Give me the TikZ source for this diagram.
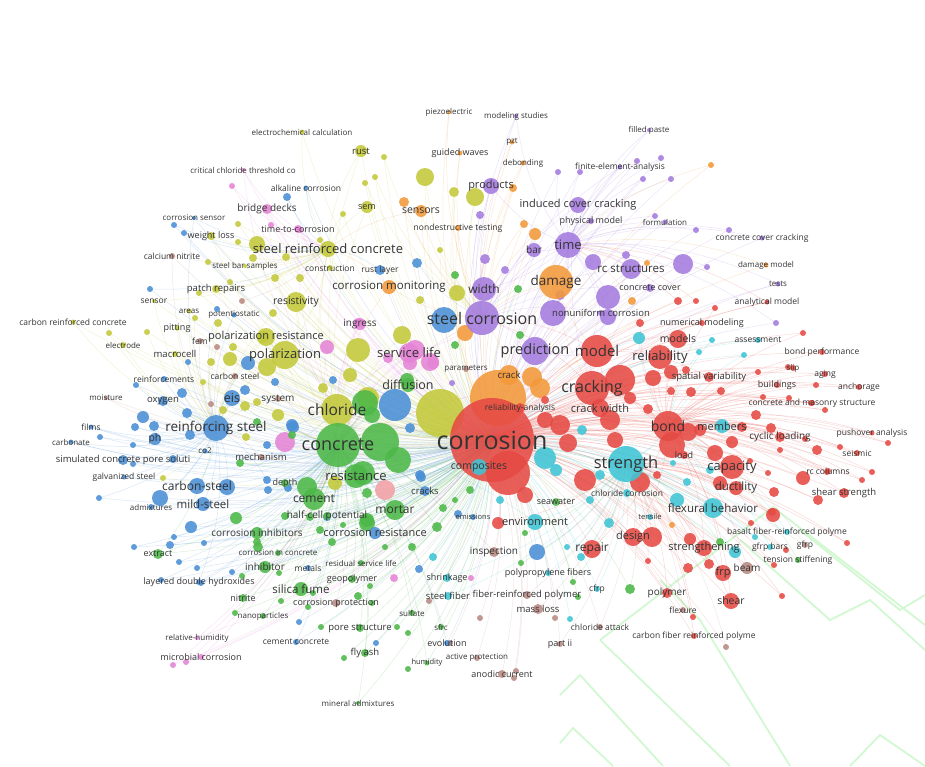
\documentclass[tikz,border=0pt]{standalone}
\usepackage{fontspec}
\setmainfont{Open Sans}
\pgfdeclarelayer{bg}
\pgfdeclarelayer{edges}
\pgfdeclarelayer{labels}
\pgfsetlayers{bg,edges,main,labels}
\definecolor{cR}{HTML}{E64A44}
\definecolor{cG}{HTML}{4DB848}
\definecolor{cB}{HTML}{4A8FD6}
\definecolor{cY}{HTML}{C3C93A}
\definecolor{cP}{HTML}{A47BDF}
\definecolor{cC}{HTML}{3FC5D5}
\definecolor{cO}{HTML}{F3993A}
\definecolor{cBr}{HTML}{B98A82}
\definecolor{cPk}{HTML}{E584D6}
\definecolor{cSa}{HTML}{F2A0A6}
\definecolor{txt}{HTML}{333333}
\definecolor{wm}{HTML}{D2F8D2}
\tikzset{
 bub/.style={circle,inner sep=0pt,draw=none,fill opacity=0.88},
 lbl/.style={inner sep=0pt,text=txt},
 lnk/.style={line width=0.45pt,draw opacity=0.22},
 wmark/.style={draw=wm,line width=1.8pt,line join=miter}
}
\newcounter{dotc}
\newcommand\D[5]{\expandafter\gdef\csname ncol#1\endcsname{#5}%
 \node[bub,fill=#5,minimum size=2*#4] (#1) at (#2,#3) {};}
\newcommand\K[7]{\D{#1}{#2}{#3}{#4}{#5}%
 \begin{pgfonlayer}{labels}\node[lbl,font=\fontsize{#6}{#6}\selectfont] (#1-t) at (#2,#3) {#7};\end{pgfonlayer}}
\newcommand\Dt[4]{\stepcounter{dotc}\edef\dn{d\arabic{dotc}}\expandafter\D\expandafter{\dn}{#1}{#2}{#3}{#4}}
\newcommand\E[2]{\draw[lnk,draw=\csname ncol#2\endcsname] (#1.center) to[bend left=14] (#2.center);}
\begin{document}
\begin{tikzpicture}[x=1pt,y=-1pt]
\useasboundingbox (0,0) rectangle (925,766);
\begin{pgfonlayer}{bg}
\fill[white] (0,0) rectangle (925,766);
\end{pgfonlayer}
% ---------- dots, group A (top-left)
\Dt{232}{186}{3}{cPk}\Dt{287}{197}{4}{cB}\Dt{174}{225}{3}{cB}\Dt{184}{233}{3}{cB}
\Dt{238}{224}{3}{cY}\Dt{238}{242}{3}{cY}\Dt{257}{244}{8}{cY}\Dt{208}{262}{3}{cY}
\Dt{230}{282}{3}{cY}\Dt{199}{293}{3}{cY}\Dt{275}{278}{4}{cY}\Dt{300}{278}{4}{cY}
\Dt{253}{258}{4}{cY}\Dt{286}{257}{4}{cY}\Dt{150}{289}{3}{cB}\Dt{242}{301}{3}{cBr}
\Dt{271}{225}{3}{cPk}\Dt{300}{230}{3}{cPk}\Dt{343}{214}{3}{cY}\Dt{320}{240}{3}{cY}
\edef\gA{\arabic{dotc}}
% group B (top-middle)
\Dt{384}{157}{3}{cY}\Dt{375}{177}{3}{cY}\Dt{365}{183}{3}{cY}\Dt{425}{177}{9}{cY}
\Dt{475}{197}{9}{cY}\Dt{454}{192}{5}{cY}\Dt{404}{202}{5}{cO}\Dt{480}{215}{4}{cP}
\Dt{524}{224}{4}{cO}\Dt{535}{234}{6}{cO}\Dt{485}{259}{5}{cP}\Dt{505}{270}{4}{cP}
\Dt{417}{263}{5}{cB}\Dt{455}{275}{4}{cG}\Dt{457}{293}{8}{cY}\Dt{518}{289}{4}{cG}
\Dt{513}{188}{4}{cO}\Dt{420}{300}{4}{cY}\Dt{440}{250}{3}{cY}
\edef\gB{\arabic{dotc}}
% group C (top-right purple)
\Dt{593}{262}{8}{cP}\Dt{608}{297}{12}{cP}\Dt{558}{172}{3}{cP}\Dt{580}{172}{3}{cP}
\Dt{637}{161}{3}{cP}\Dt{661}{158}{3}{cP}\Dt{643}{179}{3}{cP}\Dt{671}{179}{3}{cP}
\Dt{711}{165}{3}{cO}\Dt{655}{216}{3}{cP}\Dt{696}{230}{3}{cP}\Dt{729}{230}{3}{cP}
\Dt{683}{264}{10}{cP}\Dt{707}{267}{3}{cP}\Dt{626}{255}{4}{cP}\Dt{647}{263}{3}{cO}
\Dt{678}{301}{4}{cR}\Dt{696}{301}{3}{cR}\Dt{632}{301}{4}{cO}\Dt{553}{313}{13}{cP}
\Dt{608}{317}{8}{cP}\Dt{776}{323}{3}{cP}\Dt{560}{295}{5}{cP}
\edef\gC{\arabic{dotc}}
% group D (left middle)
\Dt{217}{309}{3}{cB}\Dt{109}{333}{3}{cY}\Dt{147}{332}{3}{cY}\Dt{195}{318}{3}{cY}
\Dt{218}{323}{4}{cY}\Dt{273}{313}{4}{cY}\Dt{217}{347}{3}{cBr}\Dt{233}{347}{4}{cY}
\Dt{211}{362}{4}{cY}\Dt{230}{359}{7}{cY}\Dt{263}{337}{6}{cY}\Dt{267}{367}{9}{cY}
\Dt{248}{363}{7}{cB}\Dt{188}{362}{3}{cB}\Dt{203}{382}{3}{cY}\Dt{136}{385}{3}{cB}
\Dt{182}{393}{5}{cB}\Dt{245}{390}{5}{cB}\Dt{245}{406}{5}{cY}\Dt{211}{404}{3}{cBr}
\Dt{223}{410}{4}{cY}\Dt{143}{417}{6}{cB}\Dt{154}{426}{5}{cB}\Dt{135}{427}{4}{cB}
\Dt{187}{413}{5}{cB}\Dt{190}{435}{5}{cB}\Dt{100}{437}{3}{cB}\Dt{133}{445}{3}{cB}
\Dt{173}{459}{4}{cB}\Dt{133}{464}{3}{cB}\Dt{246}{437}{4}{cY}\Dt{163}{478}{3}{cY}
\Dt{160}{498}{8}{cB}\Dt{99}{498}{3}{cB}\Dt{267}{480}{4}{cB}\Dt{227}{487}{8}{cB}
\edef\gD{\arabic{dotc}}
% group E (centre-left)
\Dt{278}{415}{6}{cY}\Dt{293}{427}{6}{cB}\Dt{257}{422}{4}{cG}\Dt{240}{463}{4}{cG}
\Dt{307}{487}{10}{cG}\Dt{323}{388}{5}{cY}\Dt{350}{375}{7}{cY}\Dt{368}{398}{11}{cY}
\Dt{407}{380}{7}{cG}\Dt{395}{405}{16}{cB}\Dt{380}{442}{19}{cG}\Dt{398}{460}{13}{cG}
\Dt{363}{473}{12}{cG}\Dt{285}{442}{10}{cPk}\Dt{292}{425}{6}{cB}\Dt{385}{490}{10}{cSa}
\Dt{335}{483}{7}{cY}\Dt{367}{520}{7}{cG}\Dt{310}{517}{4}{cG}\Dt{292}{435}{4}{cG}
\Dt{267}{445}{4}{cB}\Dt{288}{488}{4}{cB}\Dt{268}{490}{4}{cB}\Dt{420}{475}{5}{cB}
\Dt{437}{527}{5}{cG}\Dt{443}{508}{4}{cG}\Dt{433}{363}{6}{cPk}\Dt{410}{363}{7}{cPk}
\Dt{333}{380}{4}{cB}\Dt{275}{382}{4}{cB}\Dt{257}{402}{4}{cY}\Dt{327}{347}{7}{cPk}
\Dt{358}{350}{12}{cY}\Dt{402}{335}{9}{cY}\Dt{415}{350}{10}{cPk}\Dt{430}{362}{9}{cPk}
\Dt{388}{358}{5}{cPk}\Dt{358}{323}{5}{cPk}\Dt{365}{403}{13}{cG}\Dt{372}{415}{8}{cG}
\Dt{410}{428}{5}{cB}\Dt{421}{477}{5}{cB}\Dt{367}{493}{5}{cG}
\edef\gE{\arabic{dotc}}
% group F (centre)
\Dt{444}{320}{13}{cB}\Dt{465}{333}{8}{cO}\Dt{520}{335}{4}{cG}\Dt{532}{377}{10}{cO}
\Dt{540}{388}{10}{cO}\Dt{498}{398}{28}{cO}\Dt{440}{413}{24}{cY}\Dt{508}{473}{22}{cR}
\Dt{545}{420}{8}{cR}\Dt{560}{425}{10}{cR}\Dt{545}{458}{11}{cC}\Dt{568}{443}{9}{cR}
\Dt{585}{480}{11}{cR}\Dt{556}{470}{6}{cC}\Dt{470}{490}{4}{cG}\Dt{455}{500}{3}{cG}
\Dt{500}{500}{4}{cC}\Dt{525}{495}{8}{cR}\Dt{600}{475}{5}{cC}\Dt{590}{500}{4}{cC}
\Dt{582}{430}{5}{cC}\Dt{452}{383}{3}{cP}\Dt{455}{345}{4}{cG}\Dt{545}{400}{4}{cR}
\edef\gF{\arabic{dotc}}
% group G (right red)
\Dt{640}{323}{4}{cR}\Dt{639}{338}{6}{cC}\Dt{712}{340}{3}{cC}\Dt{699}{352}{3}{cC}
\Dt{744}{355}{3}{cC}\Dt{715}{308}{3}{cR}\Dt{803}{333}{3}{cR}\Dt{620}{380}{15}{cR}
\Dt{653}{378}{8}{cR}\Dt{671}{372}{7}{cR}\Dt{686}{370}{4}{cR}\Dt{691}{392}{5}{cR}
\Dt{721}{391}{4}{cR}\Dt{671}{391}{4}{cR}\Dt{630}{398}{6}{cR}\Dt{648}{409}{5}{cR}
\Dt{758}{372}{3}{cR}\Dt{788}{367}{3}{cR}\Dt{816}{385}{3}{cR}\Dt{763}{397}{3}{cR}
\Dt{789}{398}{3}{cR}\Dt{825}{410}{3}{cR}\Dt{811}{403}{3}{cR}\Dt{756}{415}{5}{cR}
\Dt{672}{445}{13}{cR}\Dt{688}{432}{9}{cR}\Dt{700}{430}{6}{cR}\Dt{742}{427}{5}{cR}
\Dt{732}{442}{6}{cR}\Dt{771}{428}{5}{cR}\Dt{805}{439}{3}{cR}\Dt{817}{450}{5}{cR}
\Dt{840}{447}{3}{cR}\Dt{888}{443}{3}{cR}\Dt{780}{450}{3}{cR}\Dt{715}{453}{8}{cR}
\Dt{750}{461}{3}{cR}\Dt{768}{473}{3}{cR}\Dt{803}{478}{7}{cR}\Dt{827}{472}{3}{cR}
\Dt{872}{472}{3}{cR}\Dt{862}{480}{3}{cR}\Dt{610}{420}{10}{cR}\Dt{615}{440}{8}{cR}
\edef\gG{\arabic{dotc}}
% group H (bottom right)
\Dt{720}{483}{7}{cR}\Dt{774}{492}{5}{cR}\Dt{818}{500}{5}{cR}\Dt{772}{512}{4}{cR}
\Dt{640}{482}{10}{cR}\Dt{677}{500}{7}{cC}\Dt{710}{470}{4}{cC}\Dt{673}{463}{3}{cC}
\Dt{687}{482}{4}{cC}\Dt{657}{475}{4}{cR}\Dt{652}{537}{10}{cR}\Dt{690}{539}{6}{cR}
\Dt{720}{542}{4}{cG}\Dt{735}{552}{6}{cC}\Dt{688}{568}{5}{cR}\Dt{709}{564}{5}{cR}
\Dt{773}{515}{7}{cR}\Dt{751}{523}{3}{cR}\Dt{847}{543}{3}{cR}\Dt{782}{596}{3}{cR}
\Dt{693}{617}{3}{cR}\Dt{726}{647}{3}{cBr}\Dt{630}{589}{5}{cG}\Dt{755}{537}{3}{cC}
\Dt{786}{550}{3}{cR}\Dt{774}{565}{3}{cR}\Dt{648}{561}{3}{cR}\Dt{672}{525}{3}{cO}
\Dt{537}{552}{8}{cB}\Dt{567}{547}{3}{cC}\Dt{581}{557}{4}{cC}\Dt{609}{523}{5}{cC}
\Dt{498}{523}{6}{cR}\Dt{525}{533}{3}{cG}\Dt{521}{563}{3}{cG}\Dt{573}{582}{3}{cG}
\edef\gH{\arabic{dotc}}
% group I (bottom left)
\Dt{191}{527}{6}{cB}\Dt{236}{518}{6}{cG}\Dt{285}{516}{4}{cG}\Dt{174}{537}{3}{cB}
\Dt{134}{547}{3}{cB}\Dt{204}{543}{3}{cB}\Dt{258}{547}{5}{cG}\Dt{179}{562}{3}{cB}
\Dt{197}{568}{3}{cB}\Dt{232}{572}{3}{cB}\Dt{242}{576}{3}{cG}\Dt{279}{573}{3}{cG}
\Dt{161}{580}{3}{cB}\Dt{201}{583}{3}{cB}\Dt{281}{601}{3}{cG}\Dt{235}{613}{3}{cG}
\Dt{299}{622}{3}{cB}\Dt{173}{665}{3}{cPk}\Dt{186}{662}{3}{cPk}\Dt{308}{607}{3}{cG}
\Dt{327}{517}{4}{cB}\Dt{367}{523}{8}{cG}\Dt{320}{530}{4}{cG}\Dt{332}{542}{4}{cG}
\Dt{343}{525}{3}{cG}\Dt{257}{542}{4}{cG}\Dt{170}{545}{4}{cB}
\edef\gI{\arabic{dotc}}
% group J (bottom centre)
\Dt{385}{547}{3}{cG}\Dt{412}{547}{4}{cG}\Dt{433}{557}{4}{cC}\Dt{419}{569}{4}{cB}
\Dt{394}{578}{4}{cPk}\Dt{471}{578}{3}{cPk}\Dt{370}{586}{3}{cG}\Dt{313}{593}{3}{cG}
\Dt{358}{596}{4}{cG}\Dt{372}{603}{3}{cG}\Dt{429}{601}{3}{cBr}\Dt{578}{597}{3}{cG}
\Dt{480}{618}{3}{cBr}\Dt{555}{618}{3}{cBr}\Dt{570}{619}{3}{cC}\Dt{321}{627}{3}{cG}
\Dt{397}{627}{3}{cG}\Dt{408}{633}{3}{cG}\Dt{376}{643}{3}{cB}\Dt{344}{658}{3}{cG}
\Dt{408}{669}{3}{cG}\Dt{516}{671}{3}{cBr}\Dt{514}{678}{3}{cBr}\Dt{458}{514}{4}{cB}
\Dt{450}{643}{3}{cBr}
\edef\gJ{\arabic{dotc}}
% ---------- labelled nodes
\K{piezo}{449}{112}{2}{cO}{8}{piezoelectric}
\K{modstud}{516}{116}{2}{cP}{8}{modeling studies}
\K{pzt}{512}{142}{2.5}{cO}{8}{pzt}
\K{filled}{649}{130}{2}{cP}{8}{filled paste}
\K{electro}{302}{132}{2.5}{cY}{8}{electrochemical calculation}
\K{rust}{361}{151}{6}{cY}{9.5}{rust}
\K{guided}{460}{153}{2.5}{cO}{9}{guided waves}
\K{debond}{523}{163}{2.5}{cO}{8}{debonding}
\K{fea}{620}{167}{2.5}{cP}{8.5}{finite-element-analysis}
\K{crit}{243}{170}{2}{cPk}{8}{critical chloride threshold co}
\K{alk}{306}{188}{2.5}{cB}{8.5}{alkaline corrosion}
\K{products}{491}{186}{8}{cP}{11}{products}
\K{sem}{367}{207}{6}{cY}{9}{sem}
\K{sensors}{421}{211}{6}{cO}{10.5}{sensors}
\K{bridge}{267}{209}{5}{cPk}{10}{bridge decks}
\K{corrsens}{194}{218}{2}{cB}{8}{corrosion sensor}
\K{icc}{578}{205}{8}{cP}{11}{induced cover cracking}
\K{phys}{591}{221}{3}{cP}{9}{physical model}
\K{formul}{665}{222}{2.5}{cP}{8}{formulation}
\K{wloss}{211}{236}{4}{cY}{9}{weight loss}
\K{ttc}{298}{229}{4}{cPk}{9}{time-to-corrosion}
\K{ndt}{458}{228}{3}{cO}{8.5}{nondestructive testing}
\K{ccc}{762}{238}{2.5}{cP}{8.5}{concrete cover cracking}
\K{src}{328}{249}{8}{cY}{13}{steel reinforced concrete}
\K{time}{568}{245}{13}{cP}{13}{time}
\K{calcn}{172}{256}{3}{cBr}{8.5}{calcium nitrite}
\K{sbs}{245}{266}{2}{cY}{8}{steel bar samples}
\K{bar}{534}{250}{7}{cP}{10}{bar}
\K{constr}{330}{268}{3}{cY}{8.5}{construction}
\K{rustl}{380}{270}{5}{cB}{8.5}{rust layer}
\K{rcs}{631}{269}{10}{cP}{11.5}{rc structures}
\K{dmodel}{766}{265}{2.5}{cO}{8}{damage model}
\K{cmon}{389}{287}{7}{cO}{11.5}{corrosion monitoring}
\K{width}{484}{289}{12}{cP}{12}{width}
\K{damage}{556}{282}{17}{cO}{13.5}{damage}
\K{tests}{778}{284}{2.5}{cP}{8}{tests}
\K{ccover}{650}{288}{4}{cP}{9}{concrete cover}
\K{sensor}{154}{301}{2}{cY}{8.5}{sensor}
\K{patch}{216}{289}{4}{cY}{9.5}{patch repairs}
\K{resist}{296}{302}{10}{cY}{10.5}{resistivity}
\K{anamod}{767}{302}{2.5}{cR}{8.5}{analytical model}
\K{areas}{189}{311}{2.5}{cY}{8}{areas}
\K{potst}{234}{315}{2.5}{cB}{8}{potentiostatic}
\K{crc}{73}{322}{2.5}{cY}{8.5}{carbon reinforced concrete}
\K{pitting}{177}{328}{2.5}{cY}{9}{pitting}
\K{ingress}{360}{324}{6}{cPk}{10}{ingress}
\K{stcorr}{482}{318}{17}{cP}{16}{steel corrosion}
\K{nonun}{601}{313}{3}{cP}{9.5}{nonuniform corrosion}
\K{nummod}{702}{323}{3}{cR}{9}{numerical modeling}
\K{electrode}{123}{345}{3}{cY}{8}{electrode}
\K{fem}{200}{341}{3}{cBr}{8.5}{fem}
\K{polres}{266}{337}{9}{cY}{11}{polarization resistance}
\K{macro}{175}{354}{3}{cY}{9.5}{macrocell}
\K{polar}{285}{355}{14}{cY}{13}{polarization}
\K{servl}{409}{353}{10}{cPk}{13}{service life}
\K{pred}{535}{351}{14}{cP}{14.5}{prediction}
\K{model}{597}{351}{16}{cR}{15}{model}
\K{models}{678}{339}{9}{cR}{10.5}{models}
\K{assess}{758}{340}{3}{cC}{8.5}{assessment}
\K{reliab}{660}{357}{12}{cR}{13}{reliability}
\K{bondperf}{822}{352}{3}{cR}{8.5}{bond performance}
\K{cstl}{235}{376}{3}{cBr}{8.5}{carbon steel}
\K{reinf}{164}{379}{3}{cB}{8.5}{reinforcements}
\K{params}{466}{369}{3}{cBr}{8}{parameters}
\K{crack}{509}{375}{10}{cO}{9.5}{crack}
\K{slip}{793}{368}{3}{cR}{8}{slip}
\K{aging}{825}{374}{3}{cR}{8.5}{aging}
\K{spvar}{709}{377}{5}{cR}{9.5}{spatial variability}
\K{cracking}{592}{388}{17}{cR}{16}{cracking}
\K{bldg}{777}{385}{3}{cR}{9}{buildings}
\K{anch}{859}{387}{3}{cR}{8.5}{anchorage}
\K{diff}{408}{385}{7}{cG}{12.5}{diffusion}
\K{moist}{106}{398}{2}{cBr}{8}{moisture}
\K{oxygen}{163}{401}{5}{cB}{9.5}{oxygen}
\K{eis}{232}{398}{8}{cB}{12.5}{eis}
\K{system}{278}{399}{3}{cBr}{10}{system}
\K{relan}{520}{408}{5}{cR}{8.5}{reliability-analysis}
\K{crwidth}{600}{408}{9}{cR}{11}{crack width}
\K{cms}{812}{403}{3}{cR}{8.5}{concrete and masonry structure}
\K{chloride}{337}{410}{16}{cY}{15.5}{chloride}
\K{films}{91}{427}{2.5}{cB}{8.5}{films}
\K{reinst}{216}{428}{13}{cB}{13.5}{reinforcing steel}
\K{corrosion}{492}{440}{42}{cR}{25}{corrosion}
\K{bond}{668}{426}{15}{cR}{14}{bond}
\K{members}{722}{426}{7}{cC}{11}{members}
\K{cyclic}{780}{437}{5}{cR}{10}{cyclic loading}
\K{pushover}{872}{433}{2.5}{cR}{8.5}{pushover analysis}
\K{carbonate}{71}{442}{2.5}{cB}{8}{carbonate}
\K{ph}{155}{439}{6}{cB}{10.5}{ph}
\K{co2}{205}{451}{2.5}{cB}{8}{co2}
\K{concrete}{338}{445}{22}{cG}{18}{concrete}
\K{mech}{261}{457}{3}{cBr}{9.5}{mechanism}
\K{simconc}{123}{460}{5}{cB}{9.5}{simulated concrete pore soluti}
\K{strength}{626}{464}{18}{cC}{16.5}{strength}
\K{load}{684}{455}{4}{cR}{9}{load}
\K{seismic}{857}{453}{3}{cR}{8.5}{seismic}
\K{compos}{479}{467}{8}{cC}{10.5}{composites}
\K{capacity}{732}{467}{12}{cR}{13}{capacity}
\K{rccol}{828}{471}{3}{cR}{8.5}{rc columns}
\K{resist2}{356}{476}{12}{cG}{13}{resistance}
\K{galv}{124}{477}{2.5}{cB}{8.5}{galvanized steel}
\K{depth}{285}{483}{4}{cG}{9}{depth}
\K{cracks}{425}{491}{5}{cB}{9.5}{cracks}
\K{cstl2}{197}{486}{8}{cB}{12}{carbon-steel}
\K{clcorr}{627}{493}{4}{cC}{8.5}{chloride corrosion}
\K{ductil}{736}{488}{7}{cR}{11.5}{ductility}
\K{shstr}{844}{493}{5}{cR}{9.5}{shear strength}
\K{cement}{314}{499}{11}{cG}{12}{cement}
\K{admix}{151}{507}{3}{cB}{8}{admixtures}
\K{mild}{203}{504}{7}{cB}{11.5}{mild-steel}
\K{seaw}{556}{502}{4}{cG}{9}{seawater}
\K{mortar}{395}{510}{10}{cG}{12}{mortar}
\K{flex}{713}{508}{10}{cC}{11.5}{flexural behavior}
\K{hcp}{327}{516}{4}{cG}{10}{half-cell potential}
\K{emis}{473}{517}{3}{cB}{7.5}{emissions}
\K{env}{535}{522}{8}{cC}{11}{environment}
\K{tensile}{650}{517}{3}{cC}{7.5}{tensile}
\K{ci}{257}{533}{6}{cG}{10}{corrosion inhibitors}
\K{cres}{375}{533}{6}{cB}{11}{corrosion resistance}
\K{basalt}{787}{532}{3}{cC}{8.5}{basalt fiber-reinforced polyme}
\K{design}{633}{537}{9}{cR}{11}{design}
\K{extract}{158}{554}{5}{cG}{9}{extract}
\K{cic}{278}{553}{3}{cG}{8}{corrosion in concrete}
\K{insp}{494}{552}{5}{cBr}{10}{inspection}
\K{repair}{592}{549}{9}{cR}{12}{repair}
\K{streng}{704}{548}{8}{cR}{11}{strengthening}
\K{gfrpb}{770}{547}{3}{cC}{8.5}{gfrp bars}
\K{gfrp}{805}{545}{3}{cBr}{8.5}{gfrp}
\K{rsl}{361}{563}{3}{cG}{8}{residual service life}
\K{inhib}{265}{567}{6}{cG}{10}{inhibitor}
\K{metals}{308}{568}{3}{cB}{8.5}{metals}
\K{tstiff}{798}{560}{3}{cG}{8.5}{tension stiffening}
\K{beam}{747}{568}{6}{cBr}{10}{beam}
\K{ldh}{199}{582}{3}{cB}{9}{layered double hydroxides}
\K{shrink}{447}{578}{4}{cC}{9}{shrinkage}
\K{ppf}{548}{573}{3}{cC}{9}{polypropylene fibers}
\K{silica}{301}{589}{7}{cG}{11.5}{silica fume}
\K{geopol}{352}{579}{4}{cG}{9}{geopolymer}
\K{frp}{723}{573}{8}{cR}{11}{frp}
\K{cfrp}{597}{589}{3}{cC}{8.5}{cfrp}
\K{nitrite}{243}{598}{4}{cG}{9}{nitrite}
\K{sfiber}{448}{596}{4}{cC}{9.5}{steel fiber}
\K{frpoly}{527}{595}{4}{cBr}{9.5}{fiber-reinforced polymer}
\K{polymer}{667}{593}{5}{cR}{10}{polymer}
\K{cprot}{336}{603}{4}{cBr}{9}{corrosion protection}
\K{massl}{538}{609}{5}{cBr}{9.5}{mass loss}
\K{nano}{263}{616}{3}{cG}{8}{nanoparticles}
\K{shear}{731}{601}{8}{cR}{10.5}{shear}
\K{sulfate}{412}{613}{3}{cG}{8}{sulfate}
\K{flexure}{683}{610}{3}{cBr}{8.5}{flexure}
\K{pores}{360}{628}{4}{cG}{9.5}{pore structure}
\K{sfrc}{441}{627}{3}{cG}{8}{sfrc}
\K{clatt}{600}{627}{3}{cBr}{8.5}{chloride attack}
\K{relhum}{197}{638}{2}{cPk}{8}{relative-humidity}
\K{cemconc}{296}{642}{3}{cB}{8.5}{cement concrete}
\K{evol}{447}{643}{3}{cB}{9}{evolution}
\K{part2}{560}{644}{3}{cBr}{9}{part ii}
\K{cfrpoly}{694}{636}{3}{cR}{8.5}{carbon fiber reinforced polyme}
\K{flyash}{365}{653}{4}{cG}{9.5}{fly ash}
\K{microb}{201}{657}{3}{cPk}{9}{microbial corrosion}
\K{humid}{427}{663}{2.5}{cG}{7.5}{humidity}
\K{actprot}{477}{658}{3}{cBr}{8}{active protection}
\K{anodic}{502}{674}{4}{cBr}{9}{anodic current}
\K{mineral}{358}{703}{2}{cG}{8}{mineral admixtures}
% ---------- connectors
\begin{pgfonlayer}{edges}
\draw[wmark] (600,640) -- (773,507) -- (925,625);
\draw[wmark] (560,695) -- (580,675) -- (663,766);
\draw[wmark] (560,743) -- (573,728) -- (613,766);
\draw[wmark] (600,640) -- (730,766);
\draw[wmark] (660,580) -- (700,620) -- (790,766);
\draw[wmark] (740,540) -- (830,620) -- (870,600) -- (925,650);
\draw[wmark] (800,530) -- (900,610) -- (925,595);
\draw[wmark] (850,766) -- (880,735) -- (925,766);
\foreach \b in {concrete,chloride,reinst,stcorr,strength,bond,cracking,model,damage,time,src,polar,servl,diff,resist2,cement,mortar,cres,ci,inhib,cstl2,mild,eis,capacity,ductil,flex,repair,design,streng,frp,beam,shear,polymer,env,insp,seaw,compos,cracks,width,products,sensors,cmon,rust,sem,ingress,pred,models,reliab,crwidth,relan,crack,nonun,rcs,icc,members,cyclic,shstr,rccol,seismic,bondperf,cms,bldg,anch,aging,slip,spvar,nummod,assess,load,clcorr,tensile,gfrpb,gfrp,basalt,tstiff,cfrp,ppf,sfiber,shrink,frpoly,massl,clatt,cfrpoly,flexure,anodic,evol,sfrc,sulfate,pores,flyash,silica,geopol,nitrite,extract,ldh,hcp,depth,mech,oxygen,macro,polres,resist,patch,wloss,bridge,ttc,alk,crit,electro,guided,ndt,bar,phys,ccover,ccc,fea,anamod,dmodel,tests,pushover,emis,params,system,ph,simconc,galv,films,cic,rsl,metals,cprot,nano,cemconc,part2,actprot,humid,pitting,potst,areas,constr,rustl,sbs,calcn,reinf,cstl,fem,electrode,crc,sensor,corrsens,moist,carbonate,co2,admix,formul,debond,pzt,piezo,modstud,filled,microb,relhum,mineral} {\E{corrosion}{\b}}
\foreach \i in {1,...,\gJ} {\E{corrosion}{d\i}}
\foreach \b in {chloride,reinst,cement,mortar,resist2,diff,servl,polar,eis,cstl2,mild,ci,inhib,silica,flyash,pores,geopol,hcp,depth,mech,oxygen,simconc,ph,films,carbonate,galv,admix,extract,ldh,nitrite,nano,cprot,cemconc,microb,relhum,mineral,sulfate,cres,strength,bond,cracking,src,resist,ingress,macro,polres,stcorr,cic,rsl,metals,sfrc,evol,humid,cracks,env,insp} {\E{concrete}{\b}}
\foreach \b in {diff,servl,ingress,src,polar,resist,cstl2,reinst,polres,eis,cmon,rust,sem,ttc,bridge,crit,patch,wloss,cement,mortar} {\E{chloride}{\b}}
\foreach \b in {eis,oxygen,ph,films,carbonate,simconc,galv,co2,cstl2,mild,polar,polres,macro,reinf,moist,pitting,electrode,crc,sensor,corrsens,calcn,fem,admix,cstl,system,mech,areas,potst,extract,ldh} {\E{reinst}{\b}}
\foreach \b in {rust,sem,electro,alk,crit,bridge,ttc,wloss,sbs,patch,constr,rustl,cmon,sensors,resist,polar,calcn,corrsens,sensor} {\E{src}{\b}}
\foreach \b in {width,products,time,damage,bar,icc,phys,rcs,nonun,pred,model,cracking,crack,ccover,fea,debond,pzt,guided,ndt,sensors,cmon,servl,piezo,modstud} {\E{stcorr}{\b}}
\foreach \b in {icc,phys,formul,fea,ccc,rcs,dmodel,tests,anamod,nonun,damage,bar,products,modstud,filled,width,pred} {\E{time}{\b}}
\foreach \b in {model,reliab,bond,crwidth,spvar,nummod,models,assess,strength,capacity,rcs,ccover,nonun,icc,anamod,tests,damage,relan} {\E{cracking}{\b}}
\foreach \b in {members,capacity,ductil,flex,load,cyclic,bondperf,slip,aging,anch,bldg,cms,pushover,seismic,rccol,shstr,streng,frp,beam,shear,design,repair,basalt,gfrp,gfrpb,tstiff,strength,reliab,models} {\E{bond}{\b}}
\foreach \b in {members,flex,capacity,env,compos,seaw,clcorr,tensile,design,repair,polymer,cfrp,ppf,sfiber,shrink,frpoly,massl,clatt,part2,flexure,cfrpoly,streng,frp,ductil,shear} {\E{strength}{\b}}
\foreach \b in {pred,reliab,relan,crack,damage,spvar,nummod,models,crwidth} {\E{model}{\b}}
\foreach \i in {1,...,\gA} {\E{src}{d\i}}
\pgfmathtruncatemacro\s{\gA+1}
\foreach \i in {\s,...,\gB} {\E{stcorr}{d\i}}
\pgfmathtruncatemacro\s{\gB+1}
\foreach \i in {\s,...,\gC} {\E{time}{d\i}}
\pgfmathtruncatemacro\s{\gC+1}
\foreach \i in {\s,...,\gD} {\E{reinst}{d\i}}
\pgfmathtruncatemacro\s{\gD+1}
\foreach \i in {\s,...,\gE} {\E{concrete}{d\i}}
\pgfmathtruncatemacro\s{\gF+1}
\foreach \i in {\s,...,\gG} {\E{bond}{d\i}}
\pgfmathtruncatemacro\s{\gG+1}
\foreach \i in {\s,...,\gH} {\E{strength}{d\i}}
\pgfmathtruncatemacro\s{\gH+1}
\foreach \i in {\s,...,\gI} {\E{concrete}{d\i}}
\end{pgfonlayer}
\end{tikzpicture}
\end{document}
